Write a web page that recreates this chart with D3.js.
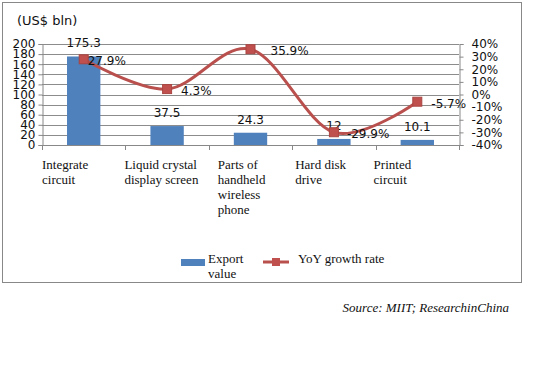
<!DOCTYPE html>
<html>
<head>
<meta charset="utf-8">
<script src="https://cdn.jsdelivr.net/npm/d3@7"></script>
<style>
body { margin: 0; background: #fff; }
svg { display: block; }
</style>
</head>
<body>
<div id="chart"></div>
<script>
var w = 545;
var h = 366;

var categories = ["Integrate circuit", "Liquid crystal display screen", "Parts of handheld wireless phone", "Hard disk drive", "Printed circuit"];
var categoryLines = [["Integrate", "circuit"], ["Liquid crystal", "display screen"], ["Parts of", "handheld", "wireless", "phone"], ["Hard disk", "drive"], ["Printed", "circuit"]];
var exportValues = [175.3, 37.5, 24.3, 12, 10.1];
var growthRates = [27.9, 4.3, 35.9, -29.9, -5.7];
var leftTicks = [0, 20, 40, 60, 80, 100, 120, 140, 160, 180, 200];
var rightTicks = [-40, -30, -20, -10, 0, 10, 20, 30, 40];

// layout only: label nudges, in px
var catLabelDx = [0, -1, 9, 3, -2];
var growthLabelDx = [4, 14, 20, 13, 14];

var plotLeft = 42, plotRight = 459, plotTop = 44, plotBottom = 145;
var sans = "'DejaVu Sans', sans-serif";
var serif = "'Liberation Serif', 'Times New Roman', serif";

var svg = d3.select("#chart")
	.append("svg")
	.attr("width", w)
	.attr("height", h);

// outer frame
svg.append("rect")
	.attr("x", 2.5)
	.attr("y", 2.5)
	.attr("width", 519)
	.attr("height", 280)
	.attr("fill", "none")
	.attr("stroke", "#888");

var xScale = d3.scaleBand()
	.domain(categories)
	.range([plotLeft, plotRight])
	.paddingInner(0.6)
	.paddingOuter(0.3);

var step = xScale.step();

var yScale = d3.scaleLinear()
	.domain([0, 200])
	.range([plotBottom, plotTop]);

var yScale2 = d3.scaleLinear()
	.domain([-40, 40])
	.range([plotBottom, plotTop]);

function center(d) {
	return xScale(d) + xScale.bandwidth() / 2;
}

// gridlines
svg.append("g")
	.selectAll("line")
	.data(leftTicks.filter(function(d) { return d > 0; }))
	.enter()
	.append("line")
	.attr("x1", plotLeft)
	.attr("x2", plotRight)
	.attr("y1", function(d) { return Math.round(yScale(d)) + 0.5; })
	.attr("y2", function(d) { return Math.round(yScale(d)) + 0.5; })
	.attr("stroke", "#8c8c8c");

// bars
svg.selectAll(".bar")
	.data(exportValues)
	.enter()
	.append("rect")
	.attr("class", "bar")
	.attr("x", function(d, i) { return xScale(categories[i]); })
	.attr("y", function(d) { return yScale(d); })
	.attr("width", xScale.bandwidth())
	.attr("height", function(d) { return plotBottom - yScale(d); })
	.attr("fill", "#4f81bd");

// axes
var yAxis = d3.axisLeft(yScale)
	.tickValues(leftTicks)
	.tickSize(4)
	.tickPadding(3);

var yAxis2 = d3.axisRight(yScale2)
	.tickValues(rightTicks)
	.tickSize(4)
	.tickPadding(9)
	.tickFormat(function(d) { return d + "%"; });

var gy = svg.append("g")
	.attr("transform", "translate(" + (plotLeft + 0.5) + ",0)")
	.call(yAxis);

var gy2 = svg.append("g")
	.attr("transform", "translate(" + (plotRight + 0.5) + ",0)")
	.call(yAxis2);

[gy, gy2].forEach(function(g) {
	g.selectAll("path").attr("stroke", "#888");
	g.selectAll("line").attr("stroke", "#888");
	g.selectAll("text")
		.attr("fill", "#111")
		.style("font-family", sans)
		.style("font-size", "12px");
});
gy2.selectAll("text").attr("text-anchor", "start").attr("x", 12);

// x axis line and boundary ticks
var boundaries = d3.range(categories.length + 1).map(function(i) { return plotLeft + i * step; });
svg.append("line")
	.attr("x1", plotLeft)
	.attr("x2", plotRight)
	.attr("y1", plotBottom + 0.5)
	.attr("y2", plotBottom + 0.5)
	.attr("stroke", "#888");
svg.append("g")
	.selectAll("line")
	.data(boundaries)
	.enter()
	.append("line")
	.attr("x1", function(d) { return Math.round(d) + 0.5; })
	.attr("x2", function(d) { return Math.round(d) + 0.5; })
	.attr("y1", plotBottom)
	.attr("y2", plotBottom + 5)
	.attr("stroke", "#888");

// category labels
var catText = svg.append("g")
	.selectAll("text")
	.data(categoryLines)
	.enter()
	.append("text")
	.attr("x", function(d, i) { return xScale(categories[i]) - 0.3 * step + catLabelDx[i]; })
	.attr("y", 169)
	.style("font-family", serif)
	.style("font-size", "13px")
	.attr("fill", "#111");
catText.each(function(lines, i) {
	var t = d3.select(this);
	var x = t.attr("x");
	lines.forEach(function(line, j) {
		t.append("tspan")
			.attr("x", x)
			.attr("dy", j === 0 ? 0 : 15)
			.text(line);
	});
});

// bar value labels
svg.append("g")
	.selectAll("text")
	.data(exportValues)
	.enter()
	.append("text")
	.attr("x", function(d, i) { return center(categories[i]); })
	.attr("y", function(d) { return yScale(d) - 9; })
	.attr("text-anchor", "middle")
	.style("font-family", sans)
	.style("font-size", "12px")
	.attr("fill", "#111")
	.text(function(d) { return d; });

// growth line
var line = d3.line()
	.x(function(d, i) { return center(categories[i]); })
	.y(function(d) { return yScale2(d); })
	.curve(d3.curveCardinal.tension(0));

svg.append("path")
	.datum(growthRates)
	.attr("d", line)
	.attr("fill", "none")
	.attr("stroke", "#b9504d")
	.attr("stroke-width", 3);

svg.selectAll(".marker")
	.data(growthRates)
	.enter()
	.append("rect")
	.attr("class", "marker")
	.attr("x", function(d, i) { return center(categories[i]) - 4.5; })
	.attr("y", function(d) { return yScale2(d) - 4.5; })
	.attr("width", 9)
	.attr("height", 9)
	.attr("fill", "#c0504d")
	.attr("stroke", "#a94542")
	.attr("stroke-width", 1);

svg.append("g")
	.selectAll("text")
	.data(growthRates)
	.enter()
	.append("text")
	.attr("x", function(d, i) { return center(categories[i]) + growthLabelDx[i]; })
	.attr("y", function(d) { return yScale2(d) + 6; })
	.style("font-family", sans)
	.style("font-size", "12px")
	.attr("fill", "#111")
	.text(function(d) { return d + "%"; });

// title
svg.append("text")
	.attr("x", 17)
	.attr("y", 25)
	.style("font-family", sans)
	.style("font-size", "13px")
	.attr("fill", "#111")
	.text("(US$ bln)");

// legend
var legend = svg.append("g");
legend.append("rect")
	.attr("x", 181)
	.attr("y", 259)
	.attr("width", 24)
	.attr("height", 7)
	.attr("fill", "#4f81bd");
legend.append("text")
	.attr("x", 208)
	.attr("y", 263)
	.style("font-family", serif)
	.style("font-size", "13px")
	.attr("fill", "#111")
	.selectAll("tspan")
	.data(["Export", "value"])
	.enter()
	.append("tspan")
	.attr("x", 208)
	.attr("dy", function(d, i) { return i === 0 ? 0 : 15; })
	.text(function(d) { return d; });
legend.append("line")
	.attr("x1", 263)
	.attr("x2", 289)
	.attr("y1", 262)
	.attr("y2", 262)
	.attr("stroke", "#b9504d")
	.attr("stroke-width", 3);
legend.append("rect")
	.attr("x", 272)
	.attr("y", 258)
	.attr("width", 8)
	.attr("height", 8)
	.attr("fill", "#c0504d");
legend.append("text")
	.attr("x", 298)
	.attr("y", 263)
	.style("font-family", serif)
	.style("font-size", "13px")
	.attr("fill", "#111")
	.text("YoY growth rate");

// source
svg.append("text")
	.attr("x", 509)
	.attr("y", 312)
	.attr("text-anchor", "end")
	.style("font-family", serif)
	.style("font-style", "italic")
	.style("font-size", "13px")
	.attr("fill", "#111")
	.text("Source: MIIT; ResearchinChina");
</script>
</body>
</html>
